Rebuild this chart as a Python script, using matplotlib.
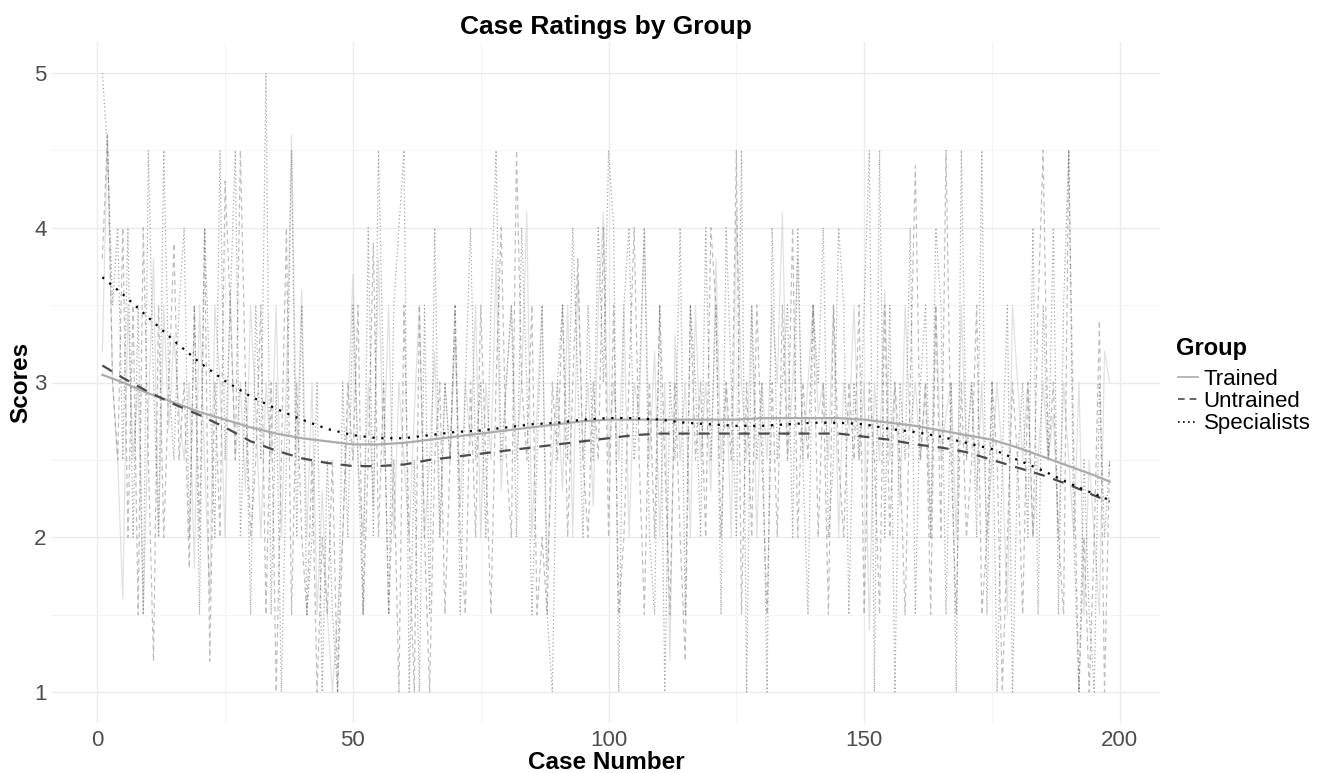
import numpy as np
import matplotlib
matplotlib.use("Agg")
import matplotlib.pyplot as plt
from matplotlib.lines import Line2D

plt.rcParams['font.family'] = ['Liberation Sans', 'DejaVu Sans']

groups = ['Trained', 'Untrained', 'Specialists']

# raw ratings per case
trained = [
    3.2, 4.6, 3.0, 2.5, 1.6, 3.5, 2.5, 3.0, 1.5, 2.8, 3.8, 2.0, 3.5, 2.7, 3.3, 2.8, 2.5, 3.0, 1.8, 3.5,
    2.5, 1.6, 3.5, 3.0, 2.0, 3.6, 2.5, 3.0, 2.3, 3.5, 2.8, 2.0, 3.0, 2.5, 3.5, 2.0, 3.0, 4.6, 2.5, 3.6,
    2.0, 3.0, 1.5, 2.3, 1.5, 1.0, 1.5, 2.0, 2.8, 3.7, 2.5, 2.0, 3.0, 2.2, 3.8, 2.5, 3.5, 2.0, 3.0, 2.5,
    2.0, 2.8, 3.5, 2.0, 2.5, 3.2, 2.0, 3.0, 2.5, 3.3, 2.2, 3.0, 2.6, 3.5, 2.0, 3.0, 2.5, 3.8, 2.3, 3.0,
    3.5, 2.5, 3.0, 4.1, 2.0, 2.8, 3.5, 1.8, 2.5, 3.0, 2.3, 3.5, 2.0, 3.7, 2.5, 3.0, 2.2, 3.5, 4.1, 2.5,
    3.0, 2.5, 3.5, 2.0, 3.0, 2.8, 4.0, 2.5, 3.2, 2.0, 3.0, 1.2, 3.3, 2.5, 3.0, 2.0, 3.5, 2.5, 3.0, 2.3,
    3.8, 2.5, 3.0, 2.0, 4.1, 3.0, 2.5, 3.5, 2.0, 3.0, 2.5, 3.5, 3.0, 4.1, 2.5, 3.0, 3.8, 2.5, 3.0, 3.5,
    2.8, 3.0, 2.5, 3.5, 2.0, 3.0, 2.7, 3.5, 2.5, 3.0, 1.4, 3.0, 2.5, 3.6, 2.5, 3.0, 2.2, 3.5, 2.7, 3.0,
    2.5, 3.0, 2.0, 3.5, 2.5, 2.8, 3.0, 2.0, 3.5, 2.5, 3.0, 2.3, 3.0, 2.0, 2.5, 3.0, 2.5, 1.5, 3.5, 3.0,
    2.5, 3.0, 2.0, 2.5, 3.0, 2.5, 2.8, 2.0, 3.0, 2.5, 2.0, 3.0, 1.5, 2.5, 2.0, 1.5, 3.2, 3.0,
]
untrained = [
    3.8, 4.6, 3.0, 2.5, 4.0, 2.0, 3.5, 1.5, 4.0, 2.5, 1.2, 3.5, 2.0, 3.0, 3.9, 2.5, 3.0, 1.8, 3.5, 2.0,
    4.0, 1.2, 3.0, 2.0, 4.3, 3.5, 2.5, 4.5, 3.0, 2.0, 2.5, 3.5, 1.5, 3.0, 1.0, 2.5, 4.0, 1.5, 3.0, 2.0,
    1.5, 2.5, 1.0, 2.0, 1.5, 2.5, 1.0, 2.0, 3.0, 2.5, 3.5, 1.5, 2.5, 3.9, 2.0, 3.0, 1.5, 2.5, 1.0, 3.5,
    2.0, 1.0, 3.5, 2.0, 1.0, 2.5, 3.0, 1.5, 2.5, 3.5, 2.0, 1.5, 3.0, 2.0, 3.5, 2.5, 1.5, 3.0, 4.0, 2.5,
    2.0, 4.5, 3.0, 2.5, 3.5, 1.5, 2.0, 1.5, 3.0, 2.5, 3.5, 2.0, 3.0, 3.8, 2.5, 2.0, 3.0, 2.5, 4.0, 2.0,
    3.5, 1.5, 2.0, 3.0, 4.0, 2.5, 1.5, 3.0, 2.0, 3.5, 2.5, 1.5, 3.0, 2.0, 1.2, 3.5, 2.5, 3.0, 2.0, 4.0,
    3.5, 2.0, 3.0, 2.5, 4.5, 1.5, 3.0, 2.0, 3.5, 2.5, 1.5, 3.0, 2.0, 3.5, 2.5, 4.0, 2.0, 3.0, 2.5, 3.5,
    2.0, 3.0, 1.5, 3.5, 2.5, 2.0, 3.0, 2.5, 3.5, 1.5, 3.0, 2.5, 1.5, 3.5, 2.0, 3.0, 2.5, 1.5, 3.0, 4.4,
    2.5, 3.0, 1.5, 3.5, 2.0, 4.5, 2.5, 1.5, 3.0, 2.0, 2.5, 3.5, 1.5, 2.0, 3.0, 2.5, 1.0, 2.0, 3.0, 2.5,
    1.5, 3.0, 2.0, 3.5, 4.5, 2.5, 3.0, 2.0, 1.5, 4.5, 2.5, 1.0, 2.0, 1.0, 2.0, 3.4, 1.0, 2.5,
]
specialists = [
    5.0, 4.5, 3.5, 4.0, 2.5, 4.0, 2.0, 3.5, 1.5, 4.5, 3.0, 2.0, 4.5, 3.0, 2.5, 3.5, 4.0, 2.0, 3.5, 1.5,
    4.0, 3.0, 2.0, 4.5, 2.5, 3.5, 4.5, 2.0, 3.0, 1.5, 3.5, 2.5, 5.0, 1.5, 3.0, 1.0, 2.5, 4.5, 2.0, 3.5,
    1.5, 2.0, 3.0, 1.0, 2.5, 1.5, 1.0, 3.0, 2.0, 3.5, 2.5, 1.5, 4.0, 2.0, 4.5, 3.0, 1.5, 3.5, 4.0, 4.5,
    1.0, 2.5, 1.0, 3.5, 1.5, 4.0, 2.0, 3.0, 2.5, 3.5, 1.5, 3.0, 4.0, 2.5, 3.0, 2.0, 3.5, 4.5, 2.5, 3.0,
    3.5, 2.0, 4.0, 3.0, 1.5, 2.5, 3.5, 1.5, 1.0, 3.0, 3.5, 2.5, 4.0, 3.0, 2.0, 3.5, 2.5, 4.0, 3.0, 4.5,
    4.0, 1.0, 3.5, 4.0, 2.5, 3.0, 4.0, 2.0, 1.5, 3.5, 1.0, 3.0, 2.5, 4.0, 1.5, 3.5, 3.0, 2.0, 4.0, 2.5,
    3.5, 1.5, 4.0, 3.0, 2.0, 4.5, 1.0, 3.5, 2.5, 3.0, 1.0, 4.0, 2.5, 3.0, 3.5, 2.0, 4.0, 2.5, 1.5, 3.5,
    3.0, 4.0, 2.0, 2.5, 4.0, 3.5, 1.5, 3.0, 2.5, 3.5, 4.5, 1.0, 4.5, 2.0, 3.5, 1.0, 3.0, 2.5, 4.0, 1.5,
    3.0, 3.5, 2.0, 4.0, 3.5, 1.5, 3.0, 1.0, 4.5, 2.5, 3.0, 2.0, 4.5, 1.5, 3.0, 1.0, 2.5, 3.5, 1.0, 2.5,
    3.0, 2.0, 4.0, 1.5, 3.5, 2.5, 4.0, 1.5, 3.5, 4.5, 2.0, 1.0, 2.5, 1.5, 1.0, 3.0, 2.0, 2.5,
]

# smoothed trend lines
smooth_x = [1, 5, 10, 15, 20, 25, 30, 35, 40, 45, 50, 55, 60, 65, 70, 75, 80, 85, 90, 95, 100,
            105, 110, 115, 120, 125, 130, 135, 140, 145, 150, 155, 160, 165, 170, 175, 180,
            185, 190, 195, 198]
smooth_trained = [3.05, 3.00, 2.93, 2.87, 2.81, 2.76, 2.71, 2.67, 2.64, 2.62, 2.60, 2.60, 2.61,
                  2.63, 2.65, 2.67, 2.69, 2.71, 2.73, 2.75, 2.76, 2.76, 2.76, 2.76, 2.76, 2.76,
                  2.77, 2.77, 2.77, 2.77, 2.76, 2.74, 2.72, 2.69, 2.66, 2.63, 2.58, 2.52, 2.46,
                  2.40, 2.36]
smooth_untrained = [3.11, 3.03, 2.94, 2.86, 2.79, 2.71, 2.62, 2.56, 2.51, 2.48, 2.46, 2.46, 2.47,
                    2.50, 2.52, 2.54, 2.56, 2.58, 2.60, 2.62, 2.64, 2.66, 2.67, 2.67, 2.67, 2.67,
                    2.67, 2.67, 2.67, 2.67, 2.65, 2.63, 2.60, 2.58, 2.55, 2.50, 2.45, 2.40, 2.34,
                    2.27, 2.23]
smooth_specialists = [3.68, 3.57, 3.42, 3.27, 3.13, 3.01, 2.91, 2.83, 2.76, 2.70, 2.66, 2.64,
                      2.64, 2.66, 2.68, 2.69, 2.71, 2.73, 2.74, 2.76, 2.77, 2.77, 2.76, 2.74,
                      2.73, 2.72, 2.72, 2.73, 2.74, 2.74, 2.73, 2.70, 2.68, 2.65, 2.61, 2.57,
                      2.50, 2.43, 2.35, 2.28, 2.24]

colors = ['#ABABAB', '#4A4A4A', '#000000']
raw_styles = ['-', (0, (4, 3)), (0, (1, 2))]
smooth_styles = ['-', (0, (5, 4)), (0, (1, 3))]

fig = plt.figure(figsize=(13.25, 7.73), dpi=100)
ax = fig.add_axes([52 / 1325, 50 / 773, 1108 / 1325, 681 / 773])

raw = [trained, untrained, specialists]
smooth = [smooth_trained, smooth_untrained, smooth_specialists]
for vals, c, ls in zip(raw, colors, raw_styles):
    cases = np.arange(1, len(vals) + 1)
    ax.plot(cases, vals, color=c, linestyle=ls, linewidth=0.9, alpha=0.35)
for vals, c, ls in zip(smooth, colors, smooth_styles):
    ax.plot(smooth_x, vals, color=c, linestyle=ls, linewidth=1.6)

ax.set_xlim(-8.85, 207.85)
ax.set_ylim(0.8, 5.2)
ax.set_xticks([0, 50, 100, 150, 200])
ax.set_xticks([25, 75, 125, 175], minor=True)
ax.set_yticks([1, 2, 3, 4, 5])
ax.set_yticks([1.5, 2.5, 3.5, 4.5], minor=True)
ax.grid(True, which='major', color='#EBEBEB', linewidth=1.0)
ax.grid(True, which='minor', color='#F2F2F2', linewidth=0.6)
ax.set_axisbelow(True)
for s in ax.spines.values():
    s.set_visible(False)
ax.tick_params(which='both', length=0, labelsize=16, labelcolor='#4D4D4D')
ax.tick_params(axis='x', pad=5)
ax.tick_params(axis='y', pad=4)

ax.set_xlabel('Case Number', fontsize=17.5, fontweight='bold', labelpad=0)
ax.set_ylabel('Scores', fontsize=17.5, fontweight='bold', labelpad=1)
ax.set_title('Case Ratings by Group', fontsize=19, fontweight='bold', pad=6)

# legend: title as separate text so the gap matches
fig.text(1176 / 1325, 1 - 348 / 773, 'Group', fontsize=17, fontweight='bold',
         ha='left', va='center')
handles = [Line2D([], [], color=c, linestyle=ls, linewidth=1.2) for c, ls in zip(colors, raw_styles)]
leg = fig.legend(handles, groups, loc='upper left',
                 bbox_to_anchor=(1167 / 1325, 1 - 358 / 773), frameon=False,
                 fontsize=16, handlelength=0.9, handletextpad=0.25,
                 labelspacing=0.05, borderpad=0)

fig.savefig('out.png', dpi=100)
